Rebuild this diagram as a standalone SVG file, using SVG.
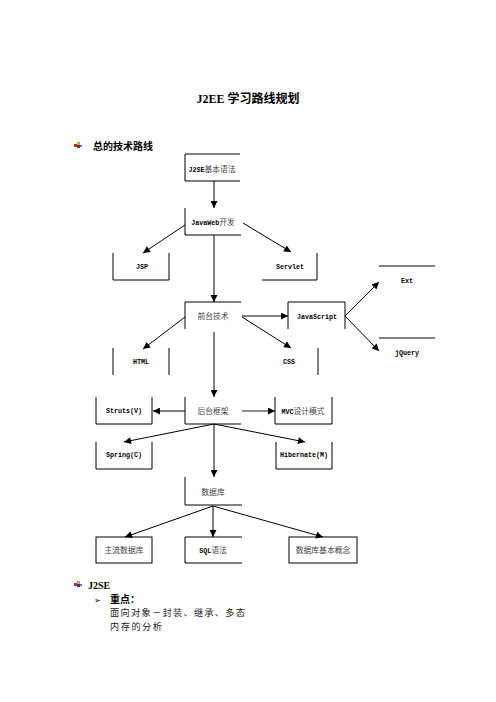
<svg xmlns="http://www.w3.org/2000/svg" width="496" height="702" viewBox="0 0 496 702">
<style>
.bx{fill:none;stroke:#000;stroke-width:1}
.cn{fill:none;stroke:#000;stroke-width:1}
.lt{font-family:"Liberation Mono",monospace;font-size:6.7px;font-weight:bold;fill:#000}
.cj{font-family:"Noto Sans CJK SC",sans-serif;font-size:7.8px;fill:#444}
.lbl{text-anchor:middle}
.hd{font-family:"Liberation Serif","Noto Sans CJK SC",serif;font-weight:bold;fill:#000}
.body{font-family:"Noto Sans CJK SC",sans-serif;font-size:9.2px;fill:#222}
</style>
<defs>
<marker id="ah" viewBox="0 0 10 10" refX="10" refY="5" markerWidth="8" markerHeight="7" orient="auto" markerUnits="userSpaceOnUse"><path d="M0,0 L10,5 L0,10 z" fill="#000"/></marker>
<g id="bul">
<rect x="0" y="0" width="3" height="3" fill="#f0a020"/>
<rect x="-3" y="2" width="3" height="3" fill="#d02020"/>
<rect x="0" y="3" width="3" height="3" fill="#2040c0"/>
<rect x="3" y="3" width="2" height="2" fill="#8060c0"/>
</g>
</defs>
<rect width="496" height="702" fill="#fff"/>

<text x="248" y="103" class="hd lbl" font-size="12">J2EE 学习路线规划</text>
<use href="#bul" x="77" y="142"/>
<text x="93" y="149.5" class="hd" font-size="10">总的技术路线</text>

<g id="connectors">
<path class="cn" d="M214,181 L214,208" marker-end="url(#ah)"/>
<path class="cn" d="M185,225 L143,253" marker-end="url(#ah)"/>
<path class="cn" d="M243,223 L291,252" marker-end="url(#ah)"/>
<path class="cn" d="M214,235 L214,302" marker-end="url(#ah)"/>
<path class="cn" d="M242,316 L288,316" marker-end="url(#ah)"/>
<path class="cn" d="M185,317 L143,349" marker-end="url(#ah)"/>
<path class="cn" d="M242,317 L291,348" marker-end="url(#ah)"/>
<path class="cn" d="M345,316 L379,282" marker-end="url(#ah)"/>
<path class="cn" d="M345,316 L379,351" marker-end="url(#ah)"/>
<path class="cn" d="M214,332 L214,397" marker-end="url(#ah)"/>
<path class="cn" d="M185,411 L153,411" marker-end="url(#ah)"/>
<path class="cn" d="M242,411 L275,411" style="stroke:#666;stroke-width:1.6" marker-end="url(#ah)"/>
<path class="cn" d="M214,424 L124,442" marker-end="url(#ah)"/>
<path class="cn" d="M214,424 L305,442" marker-end="url(#ah)"/>
<path class="cn" d="M214,424 L214,477" marker-end="url(#ah)"/>
<path class="cn" d="M213,506 L125,537" marker-end="url(#ah)"/>
<path class="cn" d="M213,506 L213,537" marker-end="url(#ah)"/>
<path class="cn" d="M213,506 L323,537" marker-end="url(#ah)"/>
</g>

<g id="n-j2se"><path class="bx" d="M240,154 H185 V181 H240"/><text x="212" y="171.5" class="lbl"><tspan class="lt">J2SE</tspan><tspan class="cj">基本语法</tspan></text></g>
<g id="n-javaweb"><path class="bx" d="M185,208 V235 H241"/><text x="213" y="224.5" class="lbl"><tspan class="lt">JavaWeb</tspan><tspan class="cj">开发</tspan></text></g>
<g id="n-jsp"><path class="bx" d="M113,253 V280 H169 V253"/><text x="142" y="269" class="lt lbl">JSP</text></g>
<g id="n-servlet"><path class="bx" d="M262,280 H317 V253"/><text x="290" y="269" class="lt lbl">Servlet</text></g>
<g id="n-qiantai"><path class="bx" d="M185,329 V302 H241"/><text x="213" y="319" class="cj lbl">前台技术</text></g>
<g id="n-js"><path class="bx" d="M288,329 V302 H345 V329"/><text x="317" y="319" class="lt lbl">JavaScript</text></g>
<g id="n-ext"><path class="bx" d="M379,266 H435"/><text x="407" y="283" class="lt lbl">Ext</text></g>
<g id="n-jquery"><path class="bx" d="M379,338 H435"/><text x="407" y="355" class="lt lbl">jQuery</text></g>
<g id="n-html"><path class="bx" d="M113,348 V375 M169,348 V375"/><text x="141" y="364" class="lt lbl">HTML</text></g>
<g id="n-css"><path class="bx" d="M318,348 V375"/><text x="289" y="364" class="lt lbl">CSS</text></g>
<g id="n-houtai"><path class="bx" d="M185,397 V424 H241"/><text x="213" y="413.5" class="cj lbl">后台框架</text></g>
<g id="n-struts"><path class="bx" d="M96,397 V424 H152 V397"/><text x="124" y="413" class="lt lbl">Struts(V)</text></g>
<g id="n-mvc"><path class="bx" d="M275,397 V424 H332 V397"/><text x="303" y="413.5" class="lbl"><tspan class="lt">MVC</tspan><tspan class="cj">设计模式</tspan></text></g>
<g id="n-spring"><path class="bx" d="M96,442 V469 H152 V442"/><text x="124" y="457" class="lt lbl">Spring(C)</text></g>
<g id="n-hibernate"><path class="bx" d="M276,442 V469 H332 V442"/><text x="304" y="457" class="lt lbl">Hibernate(M)</text></g>
<g id="n-db"><path class="bx" d="M185,477 V505 H242"/><text x="213" y="494.5" class="cj lbl">数据库</text></g>
<g id="n-mainstream"><rect class="bx" x="96" y="537" width="56" height="26"/><text x="124" y="552.5" class="cj lbl">主流数据库</text></g>
<g id="n-sql"><path class="bx" d="M242,537 H185 V563 H242"/><text x="213" y="552.5" class="lbl"><tspan class="lt">SQL</tspan><tspan class="cj">语法</tspan></text></g>
<g id="n-concept"><rect class="bx" x="289" y="537" width="68" height="26"/><text x="323" y="552.5" class="cj lbl">数据库基本概念</text></g>

<use href="#bul" x="77" y="581"/>
<text x="88" y="589" class="hd" font-size="10">J2SE</text>
<text x="94" y="602.5" font-family="DejaVu Sans,sans-serif" font-size="8" fill="#000">➢</text>
<text x="110" y="602.5" class="hd" font-size="10">重点：</text>
<text x="110" y="616" class="body" textLength="135" lengthAdjust="spacing">面向对象－封装、继承、多态</text>
<text x="110" y="629.5" class="body" textLength="52" lengthAdjust="spacing">内存的分析</text>
</svg>
